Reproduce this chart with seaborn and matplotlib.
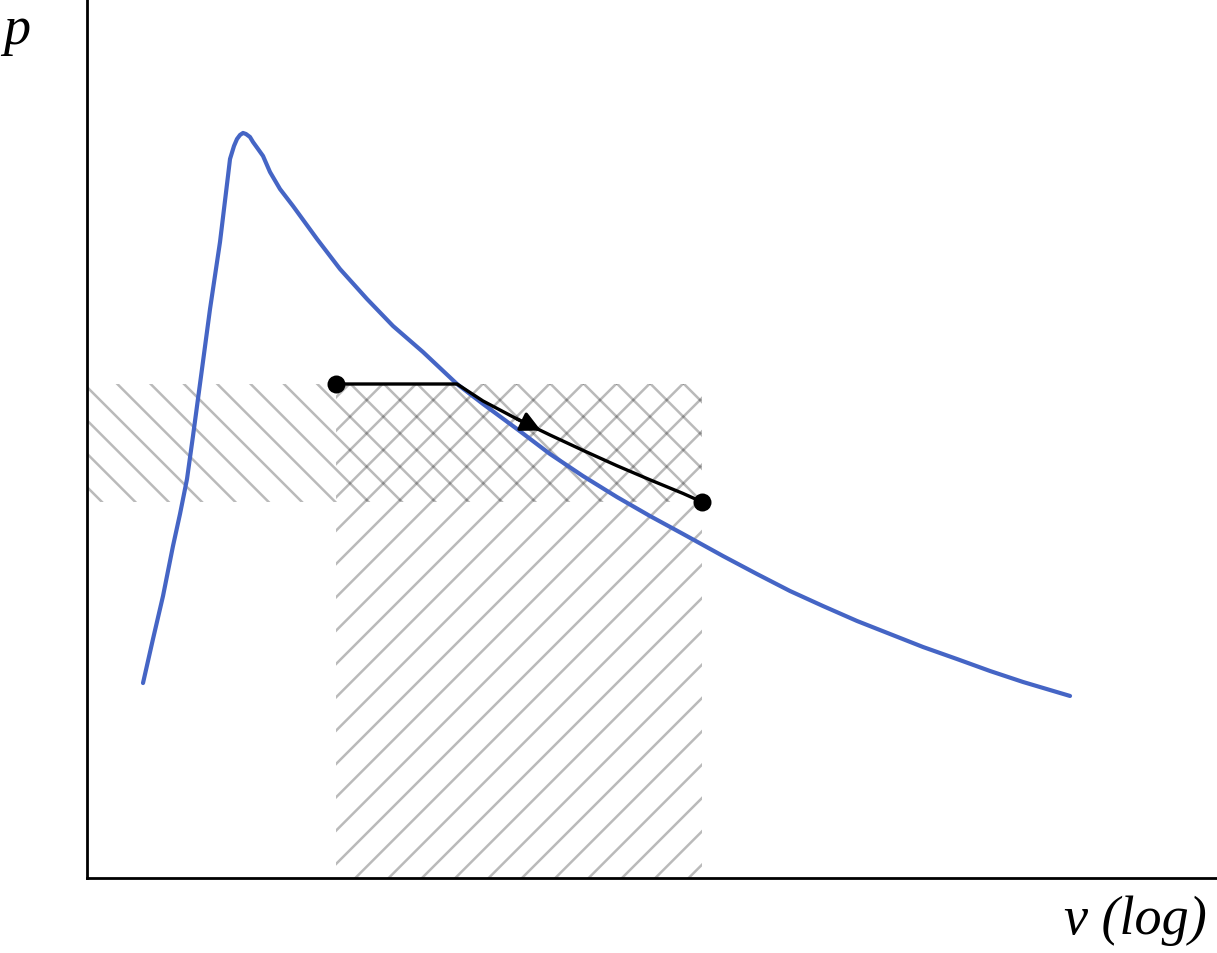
import matplotlib
matplotlib.use("Agg")
import matplotlib.pyplot as plt
import seaborn as sns
import numpy as np
import pandas as pd

# ---- data: x is log10(v), p on a linear axis ----
curve_logv = [0.1487, 0.1752, 0.2018, 0.2283, 0.2469, 0.2655, 0.2814, 0.3053, 0.3266, 0.3531,
              0.3743, 0.3797, 0.3903, 0.3982, 0.4062, 0.4142, 0.4221, 0.4327, 0.4407, 0.4540,
              0.4673, 0.4858, 0.5124, 0.5469, 0.6106, 0.6717, 0.7434, 0.8124, 0.8920, 0.9823,
              1.0513, 1.1416, 1.2292, 1.3168, 1.4071, 1.4947, 1.5823, 1.6885, 1.7788, 1.8664,
              1.9540, 2.0443, 2.1319, 2.2195, 2.3098, 2.3974, 2.4850, 2.6098]
curve_p = [2.218, 2.719, 3.208, 3.777, 4.141, 4.539, 5.028, 5.791, 6.473, 7.235,
           7.986, 8.180, 8.328, 8.407, 8.453, 8.476, 8.464, 8.430, 8.373, 8.294,
           8.214, 8.032, 7.838, 7.645, 7.270, 6.928, 6.587, 6.280, 5.984, 5.620,
           5.393, 5.108, 4.824, 4.573, 4.334, 4.118, 3.914, 3.663, 3.458, 3.265,
           3.094, 2.924, 2.776, 2.628, 2.491, 2.355, 2.230, 2.071]

path_logv = [0.6611, 0.9823, 1.0513, 1.1416, 1.2292, 1.3168, 1.4071, 1.4947, 1.5823, 1.6328]
path_p = [5.620, 5.620, 5.427, 5.222, 5.040, 4.865, 4.690, 4.530, 4.375, 4.278]

state_logv = [0.6611, 1.6328]
state_p = [5.620, 4.278]

arrow_from_logv, arrow_from_p = 1.1416, 5.222
arrow_to_logv, arrow_to_p = 1.2053, 5.090

logv_axis_min, logv_axis_max = 0.0, 3.0
p_axis_min, p_axis_max = 0.0, 10.0

BLUE = "#4565c5"
HATCH = (0, 0, 0, 0.27)

sns.set_style("white")
plt.rcParams["hatch.linewidth"] = 0.9
plt.rcParams["font.family"] = ["Liberation Serif", "DejaVu Serif"]
plt.rcParams["text.color"] = "black"

W, H, DPI = 1217, 954, 200
fig = plt.figure(figsize=(W / DPI, H / DPI), dpi=DPI)
ax = fig.add_axes([87 / W, (H - 879) / H, (W - 87) / W, 879 / H])

ax.set_xscale("log")
ax.set_xlim(10 ** logv_axis_min, 10 ** logv_axis_max)
ax.set_ylim(p_axis_min, p_axis_max)

curve_df = pd.DataFrame({"v": 10 ** np.asarray(curve_logv), "p": curve_p})
path_df = pd.DataFrame({"v": 10 ** np.asarray(path_logv), "p": path_p})
state_df = pd.DataFrame({"v": 10 ** np.asarray(state_logv), "p": state_p})
v1, v2 = state_df["v"].tolist()
p1, p2 = state_df["p"].tolist()

# hatched areas
ax.fill_between([10 ** logv_axis_min, v2], p2, p1,
                facecolor="none", edgecolor=HATCH, hatch="\\\\", linewidth=0, zorder=1)
ax.fill_between([v1, v2], p_axis_min, p1,
                facecolor="none", edgecolor=HATCH, hatch="//", linewidth=0, zorder=1)

sns.lineplot(data=curve_df, x="v", y="p", sort=False, estimator=None,
             color=BLUE, linewidth=1.5, ax=ax, zorder=3)
sns.lineplot(data=path_df, x="v", y="p", sort=False, estimator=None,
             color="black", linewidth=1.2, ax=ax, zorder=4)
sns.scatterplot(data=state_df, x="v", y="p", color="black", s=42,
                edgecolor="black", linewidth=0, ax=ax, zorder=5)

ax.annotate("", xy=(10 ** arrow_to_logv, arrow_to_p),
            xytext=(10 ** arrow_from_logv, arrow_from_p),
            arrowprops=dict(arrowstyle="-|>", color="black", lw=1.2,
                            mutation_scale=15, shrinkA=0, shrinkB=0),
            zorder=6)

ax.set_xlabel("")
ax.set_ylabel("")
ax.set_xticks([])
ax.set_yticks([])
ax.xaxis.set_minor_locator(matplotlib.ticker.NullLocator())
for s in ["top", "right"]:
    ax.spines[s].set_visible(False)
for s in ["left", "bottom"]:
    ax.spines[s].set_color("black")
    ax.spines[s].set_linewidth(1.0)

fig.text(3 / W, 1 - 44 / H, "p", ha="left", va="baseline",
         fontsize=19.5, style="italic", color="black")
fig.text(1207 / W, 1 - 934 / H, "v (log)", ha="right", va="baseline",
         fontsize=19.5, style="italic", color="black")

fig.savefig("out.png", dpi=DPI, facecolor="white")
